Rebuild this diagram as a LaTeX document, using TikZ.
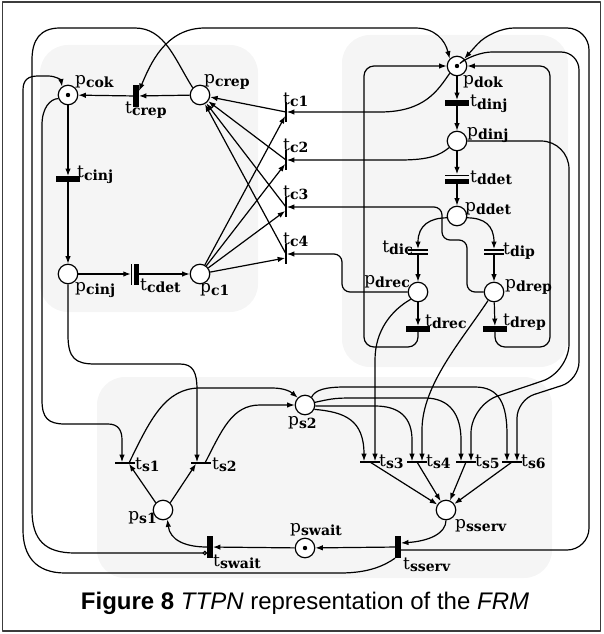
\documentclass[tikz,border=0pt]{standalone}
\usepackage{fontspec}
\setmainfont{Liberation Sans}
\newfontfamily\lblfont{DejaVu Serif}
\usetikzlibrary{arrows.meta,calc}

% label of a place or transition: letter + bold subscript
\newcommand{\pnlab}[2]{{\lblfont\fontsize{17}{17}\selectfont #1\raisebox{-2.5pt}{\fontsize{14}{14}\selectfont\bfseries #2}}}

\definecolor{regfill}{RGB}{245,245,245}
\definecolor{framegray}{RGB}{60,60,60}

\tikzset{
  place/.style={circle, draw, fill=white, minimum size=19.5pt, inner sep=0pt, line width=1.2pt},
  token/.style={place, path picture={\fill[black] (path picture bounding box.center) circle (2.2pt);}},
  timedv/.style={rectangle, fill=black, inner sep=0pt, minimum width=5.5pt, minimum height=22pt},
  timedh/.style={rectangle, fill=black, inner sep=0pt, minimum width=24pt, minimum height=5.5pt},
  immv/.style={rectangle, fill=black, inner sep=0pt, minimum width=1.3pt, minimum height=20pt},
  immh/.style={rectangle, fill=black, inner sep=0pt, minimum width=20pt, minimum height=1.3pt},
  detv/.style={rectangle, inner sep=0pt, minimum width=8pt, minimum height=21pt,
    path picture={
      \fill (path picture bounding box.north west) rectangle ([xshift=1.3pt]path picture bounding box.south west);
      \fill ([xshift=-5pt]path picture bounding box.north east) rectangle (path picture bounding box.south east);}},
  deth/.style={rectangle, inner sep=0pt, minimum width=24pt, minimum height=9pt,
    path picture={
      \fill (path picture bounding box.north west) rectangle ([yshift=-1.3pt]path picture bounding box.north east);
      \fill ([yshift=5pt]path picture bounding box.south west) rectangle (path picture bounding box.south east);}},
  dblh/.style={rectangle, inner sep=0pt, minimum width=20pt, minimum height=5.5pt,
    path picture={
      \fill (path picture bounding box.north west) rectangle ([yshift=-1.3pt]path picture bounding box.north east);
      \fill ([yshift=1.3pt]path picture bounding box.south west) rectangle (path picture bounding box.south east);}},
  flow/.style={line width=1.2pt, -{Latex[length=7.5pt,width=5.5pt]}},
  biflow/.style={line width=1.2pt, {Latex[length=7.5pt,width=5.5pt]}-{Latex[length=7.5pt,width=5.5pt]}},
  inhib/.style={line width=1.2pt, -{Circle[open,length=4.5pt,width=4.5pt]}},
  lbl/.style={inner sep=0pt, anchor=west},
  lblr/.style={inner sep=0pt, anchor=east}
}

\begin{document}
\begin{tikzpicture}[x=1pt, y=-1pt, line join=round]
    \useasboundingbox (0,0) rectangle (603,634);

    % Frame and shaded subnets
    \draw[framegray, line width=1.6pt] (2.5,2) rectangle (600.5,631);
    \fill[regfill, rounded corners=28pt] (40,45) rectangle (258,312);
    \fill[regfill, rounded corners=28pt] (342,35) rectangle (568,367);
    \fill[regfill, rounded corners=28pt] (97,377) rectangle (552,578);

    % Client subnet
    \node[token] (pcok) at (68,95) {};
    \node[place] (pcrep) at (200,95) {};
    \node[place] (pcinj) at (68,274) {};
    \node[place] (pc1) at (200,274) {};
    \node[timedv] (tcrep) at (136,96) {};
    \node[timedh] (tcinj) at (68,179) {};
    \node[detv] (tcdet) at (135,274) {};
    \foreach \i/\y in {1/112,2/160,3/207,4/254}
        \node[immv] (tc\i) at (286,\y) {};

    % Domain subnet
    \node[token] (pdok) at (457,66) {};
    \node[timedh] (tdinj) at (457,103) {};
    \node[place] (pdinj) at (457,141) {};
    \node[deth] (tddet) at (457,179) {};
    \node[place] (pddet) at (457,216) {};
    \node[dblh] (tdic) at (418,252) {};
    \node[dblh] (tdip) at (494,252) {};
    \node[place] (pdrec) at (418,292) {};
    \node[place] (pdrep) at (494,292) {};
    \node[timedh] (tdrec) at (418,329) {};
    \node[timedh] (tdrep) at (495,329) {};

    % Server subnet
    \node[place] (ps2) at (305,405) {};
    \node[place] (ps1) at (163,510) {};
    \node[token] (pswait) at (305,548) {};
    \node[place] (psserv) at (446,510) {};
    \node[immh] (ts1) at (125,463) {};
    \node[immh] (ts2) at (201,463) {};
    \foreach \i/\x in {3/370,4/417,5/466,6/512}
        \node[immh] (ts\i) at (\x,462) {};
    \node[timedv] (tswait) at (210,547) {};
    \node[timedv] (tsserv) at (398,547) {};

    % Client arcs
    \draw[flow] (pcrep) -- (tcrep);
    \draw[flow] (tcrep) -- (pcok);
    \draw[flow] (pcok) -- (tcinj);
    \draw[flow] (tcinj) -- (pcinj);
    \draw[flow] (pcinj) -- (tcdet);
    \draw[flow] (tcdet) -- (pc1);
    \foreach \i in {1,...,4} {
        \draw[flow] (pc1) -- ([yshift=-4pt]tc\i.west);
        \draw[flow] (tc\i.center) -- (pcrep);
    }

    % Domain arcs
    \draw[flow] (pdok) -- (tdinj);
    \draw[flow] (tdinj) -- (pdinj);
    \draw[flow] (pdinj) -- (tddet);
    \draw[flow] (tddet) -- (pddet);
    \draw[flow] (pddet.190) .. controls (430,218) and (418,225) .. (tdic.north);
    \draw[flow] (pddet.-10) .. controls (484,218) and (494,225) .. (tdip.north);
    \draw[flow] (tdic) -- (pdrec);
    \draw[flow] (tdip) -- (pdrep);
    \draw[flow] (pdrec) -- (tdrec);
    \draw[flow] (pdrep) -- (tdrep);
    \draw[flow, rounded corners=10pt] (tdrec.south) -- (418,347) -- (364,347) -- (364,66) -- (pdok.west);
    \draw[flow, rounded corners=10pt] (tdrep.south) -- (495,347) -- (550,347) -- (550,66) -- (pdok.east);

    % Domain to client
    \draw[flow] (pdok.225) .. controls (438,90) and (425,112) .. (380,112) -- (tc1.east);
    \draw[flow] (pdinj.220) .. controls (440,155) and (430,160) .. (400,160) -- (tc2.east);
    \draw[flow, rounded corners=8pt] (pdrep.west) -- (467,292) -- (467,240) -- (442,240) -- (442,207) -- (tc3.east);
    \draw[flow, rounded corners=8pt] (pdrec.west) -- (342,292) -- (342,254) -- (tc4.east);
    \draw[biflow] ([yshift=5pt]tcrep.east) .. controls (150,65) and (165,28) .. (205,28) -- (415,28) .. controls (435,28) and (445,40) .. (pdok.north west);

    % Client to server
    \draw[flow] (pcok.200) .. controls (50,99) and (42,108) .. (42,125) -- (42,400) .. controls (42,418) and (48,424) .. (65,424) -- (108,424) .. controls (118,424) and (122,430) .. (122,440) -- ([xshift=-3pt]ts1.north);
    \draw[flow] (pcinj.south) -- (68,335) .. controls (68,358) and (75,364) .. (95,364) -- (180,364) .. controls (193,364) and (197,372) .. (197,390) -- ([xshift=-4pt]ts2.north);
    \draw[inhib] (pcrep.north west) .. controls (175,60) and (165,28) .. (135,28) -- (60,28) .. controls (40,28) and (32,40) .. (32,60) -- (32,510) .. controls (32,540) and (45,553) .. (75,553) -- ([yshift=-6pt]tswait.west);

    % Server arcs
    \draw[flow] (ps1.north west) -- ([xshift=4pt]ts1.south);
    \draw[flow] (ps1.north east) -- ([xshift=-5pt]ts2.south);
    \draw[flow] ([xshift=4pt]ts1.center) .. controls (150,420) and (165,388) .. (200,388) -- (272,388) .. controls (285,388) and (291,392) .. (ps2.north west);
    \draw[flow] ([xshift=4pt]ts2.center) .. controls (222,430) and (232,405) .. (260,405) -- (ps2.west);
    \draw[flow] (ps2.-25) .. controls (345,412) and (364,420) .. ([xshift=-6pt]ts3.north);
    \draw[flow] (ps2.-5) -- (375,406) .. controls (400,406) and (412,418) .. (412,440) -- ([xshift=-5pt]ts4.north);
    \draw[flow] (ps2.15) .. controls (335,398) .. (360,398) -- (425,398) .. controls (450,398) and (461,415) .. (461,440) -- ([xshift=-5pt]ts5.north);
    \draw[flow] (ps2.50) .. controls (315,390) and (325,387) .. (345,387) -- (475,387) .. controls (500,387) and (507,405) .. (507,435) -- ([xshift=-5pt]ts6.north);
    \foreach \i in {3,...,6}
        \draw[flow] (ts\i.center) -- (psserv);
    \draw[flow] (psserv.south) .. controls (446,533) and (430,541) .. ([yshift=4pt]tsserv.east);
    \draw[flow] (tsserv) -- (pswait);
    \draw[flow] (pswait) -- (tswait);
    \draw[flow] (tswait.west) .. controls (185,547) and (170,540) .. (ps1.-65);

    % Domain to server
    \draw[flow] (pdrec.-135) .. controls (392,310) and (375,330) .. (375,360) -- ([xshift=5pt]ts3.north);
    \draw[flow] (pdrep.-125) .. controls (462,340) and (422,385) .. (422,430) -- ([xshift=5pt]ts4.north);
    \draw[flow, rounded corners=28pt] (pdinj.east) -- (569,141) -- (569,372) -- (471,405) -- ([xshift=5pt]ts5.north);
    \draw[flow, rounded corners=18pt] (pdok.40) -- (474,52) -- (579,52) -- (579,380) -- (517,400) -- ([xshift=5pt]ts6.north);

    % Server back to client and domain
    \draw[flow, rounded corners=22pt] ([yshift=-3pt]tsserv.east) -- (589,550) -- (589,28) -- (492,28) -- (pdok.north east);
    \draw[flow] (tsserv.south west) .. controls (385,565) and (370,573) .. (340,573) -- (65,573) .. controls (35,573) and (23,555) .. (23,530) -- (23,90) .. controls (23,80) and (28,76) .. (38,76) -- (48,76) .. controls (56,76) and (61,80) .. (pcok.125);

    % Labels
    \node[lbl] (lpcok) at ($(pcok)+(7,-13)$) {\pnlab{p}{cok}};
    \node[lbl] (lpcrep) at ($(pcrep)+(4,-13)$) {\pnlab{p}{crep}};
    \node[lbl] (ltcrep) at ($(tcrep)+(-11,14)$) {\pnlab{t}{crep}};
    \node[lbl] (ltcinj) at ($(tcinj)+(9,-4)$) {\pnlab{t}{cinj}};
    \node[lbl] (lpcinj) at ($(pcinj)+(7,16)$) {\pnlab{p}{cinj}};
    \node[lbl] (ltcdet) at ($(tcdet)+(5,12)$) {\pnlab{t}{cdet}};
    \node[lbl] (lpc1) at ($(pc1)+(0,16)$) {\pnlab{p}{c1}};
    \node[lbl] (ltc1) at ($(tc1)+(-3,-12)$) {\pnlab{t}{c1}};
    \foreach \i in {2,3,4}
        \node[lbl] (ltc\i) at ($(tc\i)+(-3,-14)$) {\pnlab{t}{c\i}};
    \node[lbl] (lpdok) at ($(pdok)+(6,16)$) {\pnlab{p}{dok}};
    \node[lbl] (ltdinj) at ($(tdinj)+(13,1)$) {\pnlab{t}{dinj}};
    \node[lbl] (lpdinj) at ($(pdinj)+(10,-6)$) {\pnlab{p}{dinj}};
    \node[lbl] (ltddet) at ($(tddet)+(13,-1)$) {\pnlab{t}{ddet}};
    \node[lbl] (lpddet) at ($(pddet)+(8,-7)$) {\pnlab{p}{ddet}};
    \node[lblr] (ltdic) at ($(tdic)+(-5,-4)$) {\pnlab{t}{dic}};
    \node[lbl] (ltdip) at ($(tdip)+(9,-1)$) {\pnlab{t}{dip}};
    \node[lblr] (lpdrec) at ($(pdrec)+(-8,-10)$) {\pnlab{p}{drec}};
    \node[lbl] (lpdrep) at ($(pdrep)+(11,-5)$) {\pnlab{p}{drep}};
    \node[lbl] (ltdrec) at ($(tdrec)+(7,-7)$) {\pnlab{t}{drec}};
    \node[lbl] (ltdrep) at ($(tdrep)+(8,-7)$) {\pnlab{t}{drep}};
    \node[lbl] (lps2) at ($(ps2)+(-17,18)$) {\pnlab{p}{s2}};
    \node[lbl] (lts1) at ($(ts1)+(10,2)$) {\pnlab{t}{s1}};
    \node[lbl] (lts2) at ($(ts2)+(11,2)$) {\pnlab{t}{s2}};
    \foreach \i in {3,...,6}
        \node[lbl] (lts\i) at ($(ts\i)+(9,0)$) {\pnlab{t}{s\i}};
    \node[lblr] (lps1) at ($(ps1)+(-6,8)$) {\pnlab{p}{s1}};
    \node[lbl] (lpswait) at ($(pswait)+(-15,-18)$) {\pnlab{p}{swait}};
    \node[lbl] (ltswait) at ($(tswait)+(3,15)$) {\pnlab{t}{swait}};
    \node[lbl] (ltsserv) at ($(tsserv)+(5,18)$) {\pnlab{t}{sserv}};
    \node[lbl] (lpsserv) at ($(psserv)+(9,16)$) {\pnlab{p}{sserv}};

    % Caption
    \node[font=\fontsize{24}{24}\selectfont] (caption) at (305,603) {\textbf{Figure 8} \textit{TTPN} representation of the \textit{FRM}};
\end{tikzpicture}
\end{document}
